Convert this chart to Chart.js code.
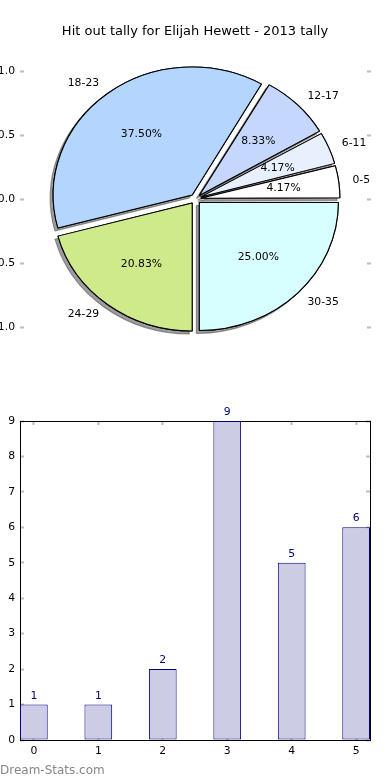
<!DOCTYPE html>
<html lang="en">
<head>
<meta charset="UTF-8">
<title>Hit out tally for Elijah Hewett - 2013 tally</title>
<script src="https://cdn.jsdelivr.net/npm/chart.js@4/dist/chart.umd.min.js"></script>
<style>
  html, body { margin: 0; padding: 0; background: #fff; }
  #page { position: relative; width: 390px; height: 780px; overflow: hidden; }
  canvas { position: absolute; left: 0; }
  #pie { top: 0; }
  #bars { top: 390px; }
</style>
</head>
<body>
<div id="page">
  <canvas id="pie" width="390" height="390"></canvas>
  <canvas id="bars" width="390" height="390"></canvas>
</div>
<script>
// hit outs per game, grouped in ranges
const ranges = ['0-5', '6-11', '12-17', '18-23', '24-29', '30-35'];
const hitouts = [1, 1, 2, 9, 5, 6];
const pieTicks = [-1.0, -0.5, 0.0, 0.5, 1.0];
const barPositions = [0, 1, 2, 3, 4, 5];
const barTicks = [0, 1, 2, 3, 4, 5, 6, 7, 8, 9];

const sliceColors = ['#ffffff', '#e8f0fd', '#c6d7fe', '#b4d5fe', '#cfea8b', '#d8ffff'];

Chart.defaults.font.family = 'DejaVu Sans';
Chart.defaults.color = '#000';
Chart.defaults.animation = false;

const TXT = 10.8;
const SX = 139 / 128;   // the axes are not square so the pie is wider than tall
const total = hitouts.reduce((s, v) => s + v, 0);

// mpl starts at 3 o'clock and goes counter clockwise, chart.js goes clockwise
const pieLabels = ranges.slice().reverse();
const pieData = hitouts.slice().reverse();
const pieColors = sliceColors.slice().reverse();

const unitRadius = chart => {
    const y = chart.scales.y;
    return y.getPixelForValue(0) - y.getPixelForValue(1);
};

const pieLook = {
    id: 'pieLook',
    beforeDatasetsDraw(chart) {
        const ctx = chart.ctx;
        const meta = chart.getDatasetMeta(0);
        const R = unitRadius(chart);
        // chart.js grows exploded slices a bit, mpl does not
        meta.data.forEach(arc => {
            const push = (arc.options.offset || 0) / 4;
            const fix = 1 - Math.sin(Math.min(Math.PI, arc.circumference));
            arc.outerRadius = R - push * fix;
        });
        const c = meta.data[0];
        ctx.save();
        ctx.translate(c.x, c.y);
        ctx.scale(SX, 1);
        ctx.translate(-c.x, -c.y);
        // shadow pass, the real slices are painted over it
        ctx.save();
        ctx.shadowColor = 'rgba(60,60,60,0.5)';
        ctx.shadowOffsetX = -3;
        ctx.shadowOffsetY = 3;
        meta.data.forEach(arc => arc.draw(ctx));
        ctx.restore();
    },
    afterDatasetsDraw(chart) {
        const ctx = chart.ctx;
        ctx.restore();
        const meta = chart.getDatasetMeta(0);
        const data = chart.data.datasets[0].data;
        const R = unitRadius(chart);
        ctx.save();
        ctx.font = TXT + 'px "DejaVu Sans"';
        ctx.fillStyle = '#000';
        ctx.textBaseline = 'middle';
        meta.data.forEach((arc, i) => {
            const mid = (arc.startAngle + arc.endAngle) / 2;
            const push = (arc.options.offset || 0) / 4;
            const at = d => [arc.x + Math.cos(mid) * (d * R + push) * SX,
                             arc.y + Math.sin(mid) * (d * R + push)];
            let p = at(1.1);
            ctx.textAlign = Math.cos(mid) > 0 ? 'left' : 'right';
            ctx.fillText(chart.data.labels[i], p[0], p[1]);
            p = at(0.6);
            ctx.textAlign = 'center';
            ctx.fillText((data[i] / total * 100).toFixed(2) + '%', p[0], p[1]);
        });
        ctx.restore();
    }
};

const pieAxis = (pos, showLabels, w) => ({
    type: 'linear',
    position: pos,
    min: -1.1,
    max: 1.1,
    afterBuildTicks: s => { s.ticks = pieTicks.map(v => ({ value: v })); },
    afterFit: s => { s.width = w; },
    ticks: {
        display: showLabels,
        padding: 9,
        font: { size: TXT },
        callback: v => v.toFixed(1)
    },
    grid: { drawOnChartArea: false, tickLength: -4, tickColor: '#bdbdbd', tickWidth: 2 },
    border: { display: false }
});

new Chart(document.getElementById('pie'), {
    type: 'pie',
    data: {
        labels: pieLabels,
        datasets: [{
            data: pieData,
            backgroundColor: pieColors,
            borderColor: '#000',
            borderWidth: 1,
            offset: 20,
            hoverOffset: 20,
            clip: false,
            radius: c => unitRadius(c.chart)
        }]
    },
    options: {
        responsive: false,
        rotation: 90,
        layout: { padding: { top: 0, bottom: 50.2, left: 0, right: 0 } },
        scales: {
            y: pieAxis('left', true, 20),
            y2: pieAxis('right', false, 19)
        },
        plugins: {
            legend: { display: false },
            tooltip: { enabled: false },
            title: {
                display: true,
                text: 'Hit out tally for Elijah Hewett - 2013 tally',
                color: '#000',
                font: { size: 13, weight: 'normal' },
                padding: { top: 23.5, bottom: 19.1 }
            }
        }
    },
    plugins: [pieLook]
});

// ---- bar chart ----
const barLabels = {
    id: 'barLabels',
    afterDatasetsDraw(chart) {
        const ctx = chart.ctx;
        const meta = chart.getDatasetMeta(0);
        ctx.save();
        ctx.font = TXT + 'px "DejaVu Sans"';
        ctx.fillStyle = '#000080';
        ctx.textAlign = 'center';
        ctx.textBaseline = 'alphabetic';
        meta.data.forEach((bar, i) => {
            ctx.fillText(String(hitouts[i]), bar.x, bar.y - 6);
        });
        ctx.restore();
    },
    afterDraw(chart) {
        const ctx = chart.ctx;
        ctx.save();
        ctx.font = '12px "DejaVu Sans"';
        ctx.fillStyle = '#888';
        ctx.textAlign = 'left';
        ctx.textBaseline = 'alphabetic';
        ctx.fillText('Dream-Stats.com', 0, 384);
        ctx.restore();
    }
};

const barAxis = (pos, isX, showLabels, size) => ({
    type: 'linear',
    position: pos,
    min: isX ? -0.215 : 0,
    max: isX ? 5.215 : 9,
    offset: false,
    afterBuildTicks: s => { s.ticks = (isX ? barPositions : barTicks).map(v => ({ value: v })); },
    afterFit: s => { if (isX) s.height = size; else s.width = size; },
    ticks: {
        display: showLabels,
        padding: isX ? 9 : 9,
        font: { size: TXT },
        callback: v => String(v)
    },
    grid: { offset: false, drawOnChartArea: false, tickLength: -4, tickColor: '#bdbdbd', tickWidth: 2 },
    border: { display: true, color: '#000', width: 1 }
});

new Chart(document.getElementById('bars'), {
    type: 'bar',
    data: {
        datasets: [{
            data: barPositions.map((x, i) => ({ x: x, y: hitouts[i] })),
            backgroundColor: '#ccccE5',
            borderColor: '#000080',
            borderWidth: 1,
            borderSkipped: false,
            barPercentage: 0.43,
            categoryPercentage: 1
        }]
    },
    options: {
        responsive: false,
        layout: { padding: 0 },
        scales: {
            x: barAxis('bottom', true, true, 40),
            x2: barAxis('top', true, false, 31),
            y: barAxis('left', false, true, 20),
            y2: barAxis('right', false, false, 20)
        },
        plugins: {
            legend: { display: false },
            tooltip: { enabled: false }
        }
    },
    plugins: [barLabels]
});
</script>
</body>
</html>
